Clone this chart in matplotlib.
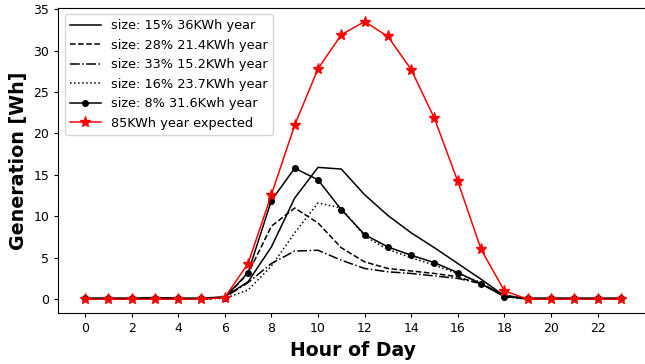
import matplotlib
matplotlib.use("Agg")
import matplotlib.pyplot as plt

hours = list(range(24))
s15 = [0.1, 0.1, 0.1, 0.2, 0.1, 0.1, 0.3, 2.1, 6.3, 12.2, 15.9, 15.7, 12.6, 10.1, 8.0, 6.2, 4.3, 2.4, 0.4, 0.1, 0.1, 0.1, 0.1, 0.1]
s28 = [0.0, 0.0, 0.0, 0.1, 0.0, 0.0, 0.2, 3.1, 8.8, 11.0, 9.2, 6.2, 4.5, 3.7, 3.4, 3.1, 2.7, 1.8, 0.5, 0.0, 0.0, 0.0, 0.0, 0.0]
s33 = [0.0, 0.0, 0.0, 0.1, 0.0, 0.0, 0.2, 2.0, 4.3, 5.8, 5.9, 4.7, 3.7, 3.3, 3.1, 2.8, 2.5, 1.9, 0.4, 0.0, 0.0, 0.0, 0.0, 0.0]
s16 = [0.0, 0.0, 0.0, 0.1, 0.0, 0.0, 0.1, 1.1, 4.0, 8.0, 11.6, 11.0, 7.6, 6.0, 5.0, 4.1, 3.1, 2.0, 0.3, 0.0, 0.0, 0.0, 0.0, 0.0]
s8 = [0.1, 0.1, 0.1, 0.1, 0.1, 0.1, 0.2, 3.2, 11.9, 15.8, 14.4, 10.8, 7.8, 6.3, 5.3, 4.4, 3.2, 1.85, 0.3, 0.1, 0.1, 0.1, 0.1, 0.1]
expected = [0, 0, 0, 0, 0, 0, 0.2, 4.3, 12.6, 21.0, 27.8, 31.9, 33.5, 31.7, 27.7, 21.8, 14.2, 6.0, 1.0, 0, 0, 0, 0, 0]

labels = ["size: 15% 36KWh year", "size: 28% 21.4KWh year", "size: 33% 15.2KWh year",
          "size: 16% 23.7KWh year", "size: 8% 31.6Kwh year", "85KWh year expected"]

fig = plt.figure(figsize=(6.45, 3.64), dpi=100)
ax = fig.add_axes([0.0902, 0.140, 0.914, 0.839])
lw = 1.1
ax.plot(hours, s15, color="black", linestyle="-", lw=lw, label=labels[0])
ax.plot(hours, s28, color="black", linestyle="--", lw=lw, label=labels[1])
ax.plot(hours, s33, color="black", linestyle="-.", lw=lw, label=labels[2])
ax.plot(hours, s16, color="black", linestyle=":", lw=lw, label=labels[3])
ax.plot(hours, s8, color="black", linestyle="-", marker="o", markersize=4, lw=lw, label=labels[4])
ax.plot(hours, expected, color="red", linestyle="-", marker="*", markersize=8, lw=lw, label=labels[5])

ax.set_xticks(range(0, 24, 2))
ax.set_yticks(range(0, 36, 5))
ax.tick_params(labelsize=9, length=3)
ax.set_xlabel("Hour of Day", fontsize=13.6, fontweight="bold")
ax.set_ylabel("Generation [Wh]", fontsize=13.7, fontweight="bold")
ax.legend(loc="upper left", fontsize=9.3, handlelength=2.4)

fig.savefig("out.png", dpi=100)
